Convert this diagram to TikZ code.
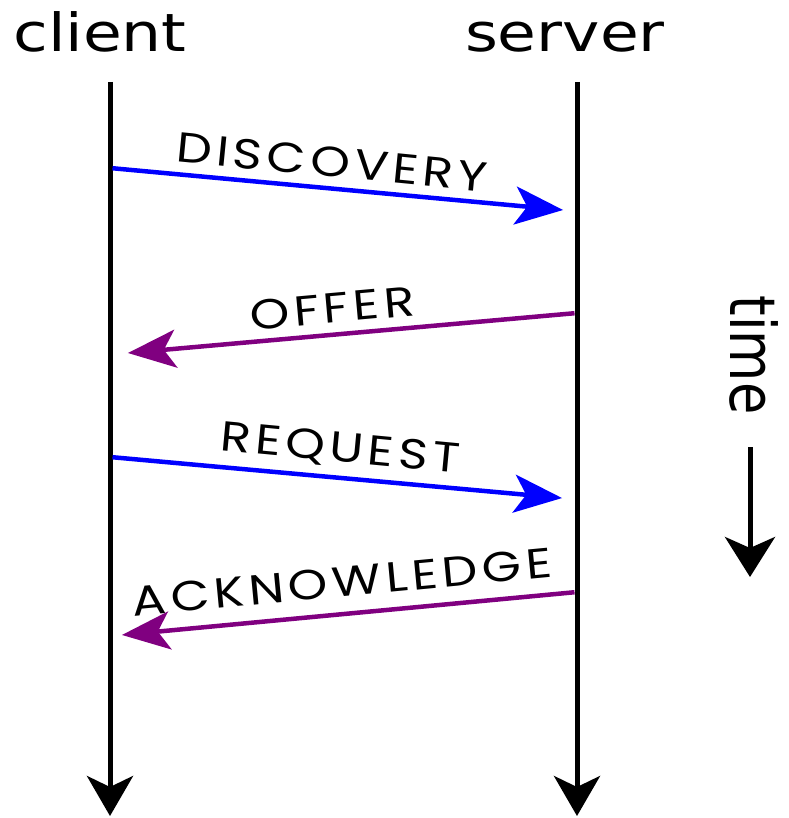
\documentclass[tikz,border=0pt]{standalone}
\usepackage{fontspec}
\usepackage{graphicx}
\setmainfont{DejaVu Sans}
\newfontfamily\lblfont{Poppins}[LetterSpace=9]
\usetikzlibrary{arrows.meta}
\definecolor{msgblue}{RGB}{0,0,255}
\definecolor{msgpurple}{RGB}{128,0,128}
\begin{document}
\begin{tikzpicture}[x=1pt,y=-1pt,
  lifeline/.style={line width=5pt,draw=black,
    -{Stealth[length=40pt,width=46pt,inset=11pt]}},
  msg/.style={line width=4.5pt,
    -{Stealth[length=48pt,width=38pt,inset=12pt]}},
  tomsg/.style={msg,draw=msgblue,fill=msgblue},
  backmsg/.style={msg,draw=msgpurple,fill=msgpurple},
  party/.style={inner sep=0pt,anchor=base,font=\fontsize{52.6}{60}\selectfont},
  msglabel/.style={inner sep=0pt,text depth=0pt,font=\lblfont\fontsize{42}{50}\selectfont}]
\useasboundingbox (0,0) rectangle (788,818);

% participants
\node[party] (client) at (100,52) {\scalebox{1.2}[1]{client}};
\node[party] (server) at (565,52) {\scalebox{1.2}[1]{server}};

% lifelines
\coordinate (cTop) at (110,82);
\coordinate (cEnd) at (110,816);
\coordinate (sTop) at (577,82);
\coordinate (sEnd) at (577,816);
\draw[lifeline] (cTop) -- (cEnd);
\draw[lifeline] (sTop) -- (sEnd);

% message end points on the lifelines
\coordinate (c1) at (110,168);
\coordinate (s1) at (577,211.3);
\coordinate (s2) at (577,313);
\coordinate (c2) at (110,354.6);
\coordinate (c3) at (110,457);
\coordinate (s3) at (577,499.4);
\coordinate (s4) at (577,592);
\coordinate (c4) at (110,636.1);

\draw[tomsg,shorten <=2.5pt,shorten >=14pt] (c1) -- (s1);
\draw[backmsg,shorten <=2.5pt,shorten >=18pt] (s2) -- (c2);
\draw[tomsg,shorten <=2.5pt,shorten >=15pt] (c3) -- (s3);
\draw[backmsg,shorten <=2.5pt,shorten >=12pt] (s4) -- (c4);

% message names
\node[msglabel,rotate=-5.6] (lDisc) at (332,162) {\scalebox{1.2}[1]{DISCOVERY}};
\node[msglabel,rotate=5.1] (lOffer) at (332,308) {\scalebox{1.2}[1]{OFFER}};
\node[msglabel,rotate=-5.4] (lReq) at (340,447) {\scalebox{1.2}[1]{REQUEST}};
\node[msglabel,rotate=5.4] (lAck) at (342,582) {\scalebox{1.2}[1]{ACKNOWLEDGE}};

% time axis
\node[party,anchor=base,rotate=-90] (time) at (730,355) {\scalebox{1}[1.2]{time}};
\coordinate (tTop) at (750,447);
\coordinate (tEnd) at (750,577);
\draw[line width=5pt,-{Stealth[length=40pt,width=50pt,inset=11pt]}] (tTop) -- (tEnd);
\end{tikzpicture}
\end{document}
